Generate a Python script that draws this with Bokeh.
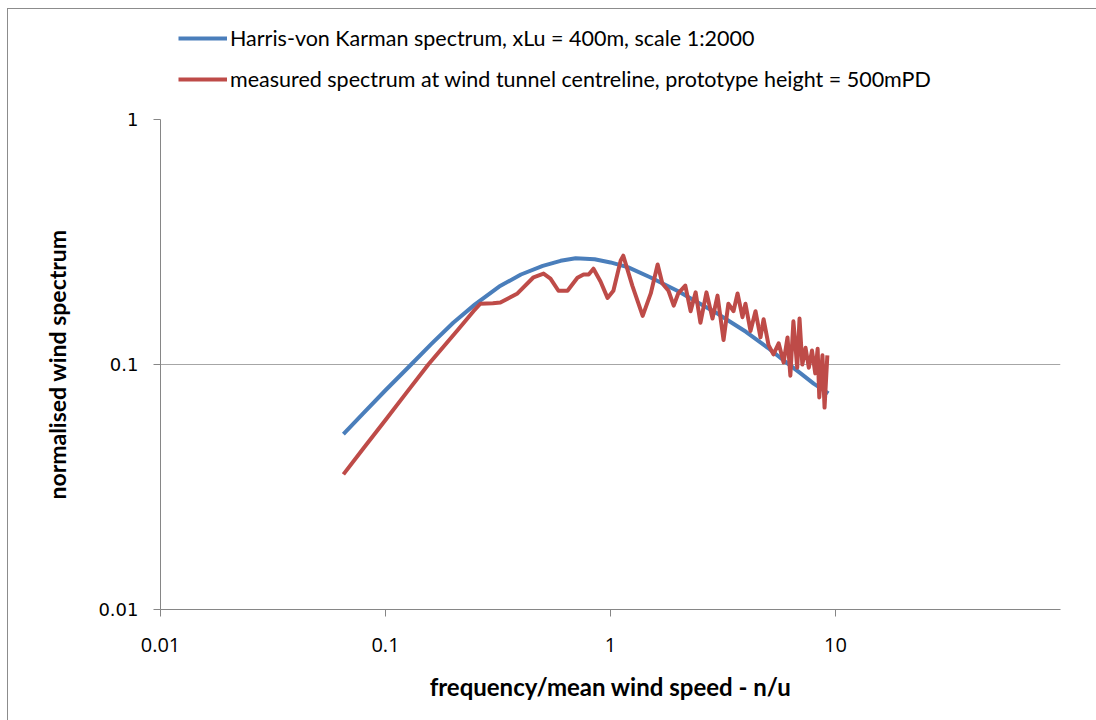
from bokeh.plotting import figure
from bokeh.layouts import column
from bokeh.models import Range1d, FixedTicker, Legend, LegendItem, CustomJSTickFormatter
from bokeh.embed import file_html
from bokeh.resources import INLINE

# Harris-von Karman spectrum
hvk_x = [0.065, 0.08, 0.1, 0.13, 0.16, 0.2, 0.25, 0.32, 0.4, 0.5, 0.6, 0.7, 0.85, 1.0,
         1.2, 1.5, 2.0, 2.5, 3.0, 3.5, 4.0, 5.0, 6.0, 7.0, 8.0, 9.3]
hvk_y = [0.052, 0.0635, 0.0785, 0.100, 0.1213, 0.148, 0.176, 0.208, 0.233, 0.2525, 0.265,
         0.2715, 0.269, 0.261, 0.249, 0.227, 0.199, 0.177, 0.161, 0.147, 0.136, 0.117,
         0.1025, 0.092, 0.0835, 0.0762]

# measured spectrum at wind tunnel centreline
meas_x = [0.065, 0.08, 0.1, 0.125, 0.155, 0.209, 0.246, 0.264, 0.3, 0.324, 0.386, 0.455,
          0.504, 0.541, 0.587, 0.644, 0.713, 0.759, 0.8, 0.84, 0.903, 0.97, 1.03, 1.11,
          1.14, 1.25, 1.39, 1.51, 1.62, 1.70, 1.81, 1.91, 2.0, 2.15,
          2.27, 2.39, 2.51, 2.67, 2.84, 2.99, 3.18, 3.34, 3.52, 3.67, 3.86, 3.98, 4.19,
          4.41, 4.64, 4.79, 5.04, 5.3, 5.59, 5.88, 6.12, 6.3, 6.5, 6.76, 6.92, 7.12, 7.36,
          7.61, 7.86, 8.13, 8.33, 8.47, 8.75, 8.94, 9.2]
meas_y = [0.0356, 0.0456, 0.0594, 0.0775, 0.100, 0.138, 0.165, 0.177, 0.178, 0.179, 0.195,
          0.227, 0.235, 0.224, 0.200, 0.200, 0.226, 0.233, 0.233, 0.246, 0.218, 0.187, 0.200,
          0.266, 0.278, 0.210, 0.158, 0.195, 0.256, 0.214, 0.2,
          0.174, 0.195, 0.21, 0.165, 0.197, 0.148, 0.197, 0.154, 0.191, 0.126, 0.177,
          0.165, 0.195, 0.156, 0.177, 0.137, 0.165, 0.129, 0.153, 0.12, 0.11, 0.122, 0.102,
          0.129, 0.09, 0.15, 0.097, 0.154, 0.1, 0.117, 0.097, 0.114, 0.092, 0.116, 0.0734,
          0.109, 0.0667, 0.109]

x_ticks = [0.01, 0.1, 1, 10]
y_ticks = [0.01, 0.1, 1]
series_names = ["Harris-von Karman spectrum, xLu = 400m, scale 1:2000",
                "measured spectrum at wind tunnel centreline, prototype height = 500mPD"]
colors = ["#4a7ebb", "#be4b48"]

# ---- legend strip on top ----
pl = figure(width=1096, height=107, x_range=Range1d(0, 1), y_range=Range1d(0, 1),
            output_backend="svg", toolbar_location=None,
            x_axis_location=None, y_axis_location=None,
            min_border_left=0, min_border_right=0, min_border_top=0, min_border_bottom=0)
pl.grid.visible = False
pl.outline_line_color = None
pl.background_fill_color = None
pl.border_fill_color = None
d1 = pl.line([-10, -9], [-10, -9], line_color=colors[0], line_width=4)
d2 = pl.line([-10, -9], [-10, -9], line_color=colors[1], line_width=4)
legend = Legend(items=[LegendItem(label=series_names[0], renderers=[d1]),
                       LegendItem(label=series_names[1], renderers=[d2])],
                location=(18, 15), orientation="vertical",
                padding=0, margin=0, spacing=15, glyph_width=49, glyph_height=20,
                label_height=20, label_standoff=3,
                label_text_font="Lato", label_text_font_size="21.5px",
                label_text_color="#000000",
                border_line_alpha=0, background_fill_alpha=0)
pl.add_layout(legend, "center")

# ---- main plot ----
p = figure(width=1096, height=613, x_axis_type="log", y_axis_type="log",
           x_range=Range1d(0.01, 100), y_range=Range1d(0.01, 1),
           output_backend="svg", toolbar_location=None,
           min_border_left=160, min_border_right=36, min_border_top=12, min_border_bottom=111)
p.outline_line_color = None
p.background_fill_color = None
p.border_fill_color = None

p.line(hvk_x, hvk_y, line_color=colors[0], line_width=4, line_join="round")
p.line(meas_x, meas_y, line_color=colors[1], line_width=4, line_join="round")

fmt = CustomJSTickFormatter(code="""
if (tick >= 1) return tick.toFixed(0);
if (tick >= 0.1) return '0.1';
return '0.01';
""")

p.xaxis.ticker = FixedTicker(ticks=x_ticks)
p.yaxis.ticker = FixedTicker(ticks=y_ticks)
p.xaxis.formatter = fmt
p.yaxis.formatter = fmt
for ax in (p.xaxis[0], p.yaxis[0]):
    ax.axis_line_color = "#868686"
    ax.major_tick_line_color = "#868686"
    ax.major_tick_out = 7
    ax.major_tick_in = 0
    ax.minor_tick_line_color = None
    ax.major_label_text_color = "#000000"
    ax.axis_label_text_color = "#000000"
    ax.axis_label_text_font = "Lato"
    ax.axis_label_text_font_style = "bold"
    ax.axis_label_text_font_size = "23px"
p.xaxis.axis_label_text_font_size = "24px"
p.xaxis.major_label_text_font = "Open Sans"
p.xaxis.major_label_text_font_size = "20px"
p.xaxis.major_label_standoff = 21
p.yaxis.major_label_text_font = "DejaVu Sans"
p.yaxis.major_label_text_font_size = "18px"
p.yaxis.major_label_standoff = 15
p.xaxis.axis_label = "frequency/mean wind speed - n/u"
p.xaxis.axis_label_standoff = 17
p.yaxis.axis_label = "normalised wind spectrum"
p.yaxis.axis_label_standoff = 24

p.xgrid.grid_line_color = None
p.ygrid.grid_line_color = "#a6a6a6"
p.ygrid.grid_line_width = 1

layout = column(pl, p, spacing=0)
layout.styles = {
    "background-color": "white",
    "background-image": "linear-gradient(#8c8c8c, #8c8c8c), linear-gradient(#8c8c8c, #8c8c8c)",
    "background-position": "7px 8px, 7px 8px",
    "background-size": "1px 100%, 100% 1px",
    "background-repeat": "no-repeat, no-repeat",
}
open("out.html", "w").write(file_html(layout, INLINE))
